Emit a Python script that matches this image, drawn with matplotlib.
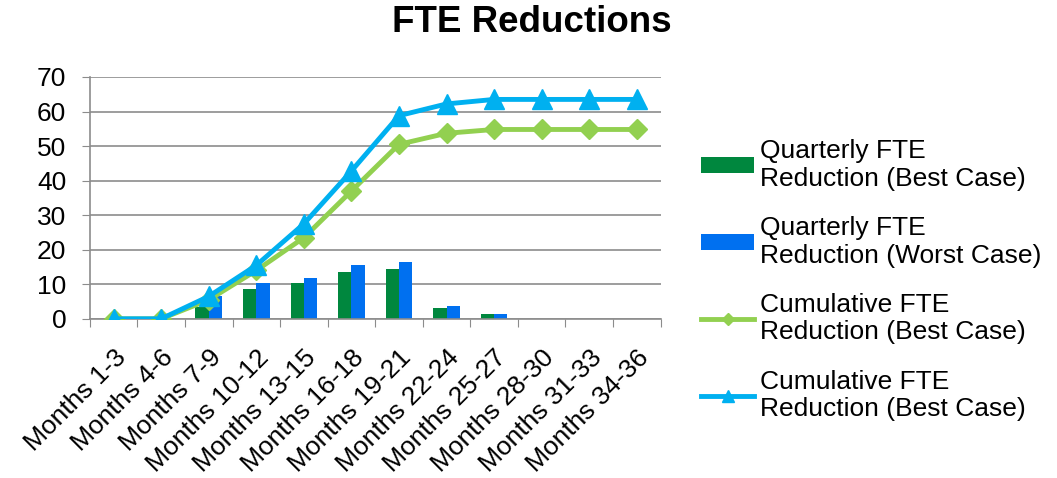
import matplotlib
matplotlib.use("Agg")
import matplotlib.pyplot as plt
import numpy as np

plt.rcParams["font.family"] = ["Liberation Sans", "DejaVu Sans"]

periods = ["Months 1-3", "Months 4-6", "Months 7-9", "Months 10-12", "Months 13-15",
           "Months 16-18", "Months 19-21", "Months 22-24", "Months 25-27",
           "Months 28-30", "Months 31-33", "Months 34-36"]
quarterly_best = [0, 0, 3.4, 8.6, 10.3, 13.5, 14.3, 3.2, 1.3, 0, 0, 0]
quarterly_worst = [0, 0, 6.7, 10.3, 11.8, 15.7, 16.4, 3.6, 1.3, 0, 0, 0]
cumulative_best = [0, 0, 5.5, 14.0, 23.5, 37.0, 50.5, 53.7, 54.8, 54.8, 54.8, 54.8]
cumulative_worst = [0, 0, 6.5, 15.5, 27.5, 42.8, 58.8, 62.2, 63.5, 63.5, 63.5, 63.5]

labels = ["Quarterly FTE\nReduction (Best Case)",
          "Quarterly FTE\nReduction (Worst Case)",
          "Cumulative FTE\nReduction (Best Case)",
          "Cumulative FTE\nReduction (Best Case)"]

fig = plt.figure(figsize=(10.57, 4.78), dpi=100)
ax = fig.add_axes([0.085, 0.333, 0.54, 0.506])

x = np.arange(len(periods))
w = 0.28
b1 = ax.bar(x - w / 2, quarterly_best, w, color="#00873E", label=labels[0], zorder=2)
b2 = ax.bar(x + w / 2, quarterly_worst, w, color="#0070F0", label=labels[1], zorder=2)
l1, = ax.plot(x, cumulative_best, color="#92D050", lw=3.5, marker="D", ms=10,
              label=labels[2], zorder=3)
l2, = ax.plot(x, cumulative_worst, color="#00B0F0", lw=3.5, marker="^", ms=14,
              label=labels[3], zorder=4)

ax.set_xlim(-0.5, len(periods) - 0.5)
ax.set_ylim(0, 70)
ax.set_yticks(range(0, 71, 10))
ax.yaxis.grid(True, color="#8c8c8c", lw=1.2)
ax.set_axisbelow(True)

# category ticks sit between groups, labels at the centres
ax.set_xticks(np.arange(-0.5, len(periods), 1.0))
ax.set_xticks(x, minor=True)
ax.set_xticklabels([])
ax.set_xticklabels(periods, minor=True, rotation=45, ha="right",
                   rotation_mode="anchor", fontsize=19)
ax.tick_params(axis="x", which="major", length=6, color="#8c8c8c", direction="out")
ax.tick_params(axis="x", which="minor", length=0, pad=19)
ax.tick_params(axis="y", length=6, color="#8c8c8c", labelsize=19, pad=11)

for side in ("top", "right"):
    ax.spines[side].set_visible(False)
for side in ("left", "bottom"):
    ax.spines[side].set_color("#8c8c8c")
    ax.spines[side].set_linewidth(1.2)

fig.suptitle("FTE Reductions", x=0.503, y=0.99, fontsize=26.5, fontweight="bold")

ax.legend([b1, b2, l1, l2], labels, loc="center left", bbox_to_anchor=(1.03, 0.16),
          frameon=False, fontsize=19, handlelength=2.0, labelspacing=0.95,
          handletextpad=0.2, markerscale=0.6, handleheight=0.6)

fig.savefig("out.png", dpi=100)
